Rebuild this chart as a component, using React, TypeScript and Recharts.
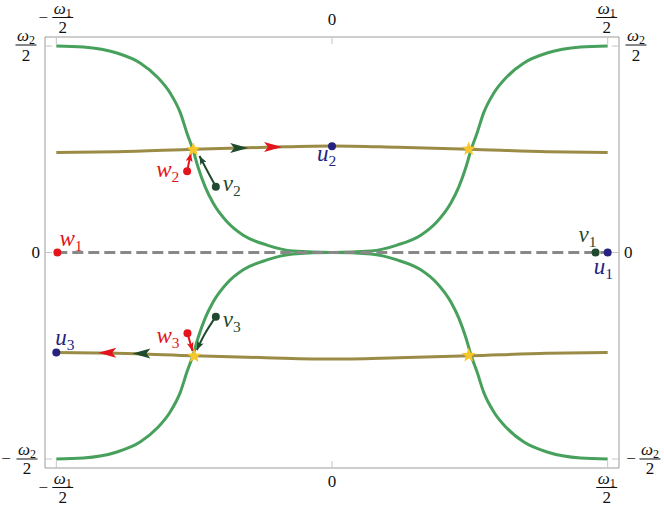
import React from 'react';
import { ComposedChart, Line, Scatter, XAxis, YAxis } from 'recharts';

const xTicks = [-0.5, 0, 0.5];
const yTicks = [-0.5, 0, 0.5];

const greenUpper = [
  { x: -0.5, y: 0.5 }, { x: -0.451, y: 0.4976 }, { x: -0.39, y: 0.483 }, { x: -0.348, y: 0.459 },
  { x: -0.317, y: 0.425 }, { x: -0.2935, y: 0.386 }, { x: -0.275, y: 0.338 }, { x: -0.263, y: 0.289 },
  { x: -0.252, y: 0.248 }, { x: -0.243, y: 0.207 }, { x: -0.23, y: 0.159 }, { x: -0.2156, y: 0.12 },
  { x: -0.19, y: 0.074 }, { x: -0.161, y: 0.042 }, { x: -0.118, y: 0.018 }, { x: -0.0707, y: 0.0036 },
  { x: 0, y: 0 },
  { x: 0.0707, y: 0.0036 }, { x: 0.118, y: 0.018 }, { x: 0.161, y: 0.042 }, { x: 0.19, y: 0.074 },
  { x: 0.2156, y: 0.12 }, { x: 0.23, y: 0.159 }, { x: 0.243, y: 0.207 }, { x: 0.252, y: 0.248 },
  { x: 0.263, y: 0.289 }, { x: 0.275, y: 0.338 }, { x: 0.2935, y: 0.386 }, { x: 0.317, y: 0.425 },
  { x: 0.348, y: 0.459 }, { x: 0.39, y: 0.483 }, { x: 0.451, y: 0.4976 }, { x: 0.5, y: 0.5 },
];
const greenLower = [
  { x: -0.5, y: -0.5 }, { x: -0.451, y: -0.4976 }, { x: -0.39, y: -0.483 }, { x: -0.348, y: -0.459 },
  { x: -0.317, y: -0.425 }, { x: -0.2935, y: -0.386 }, { x: -0.275, y: -0.338 }, { x: -0.263, y: -0.289 },
  { x: -0.252, y: -0.248 }, { x: -0.243, y: -0.207 }, { x: -0.23, y: -0.159 }, { x: -0.2156, y: -0.12 },
  { x: -0.19, y: -0.074 }, { x: -0.161, y: -0.042 }, { x: -0.118, y: -0.018 }, { x: -0.0707, y: -0.0036 },
  { x: 0, y: 0 },
  { x: 0.0707, y: -0.0036 }, { x: 0.118, y: -0.018 }, { x: 0.161, y: -0.042 }, { x: 0.19, y: -0.074 },
  { x: 0.2156, y: -0.12 }, { x: 0.23, y: -0.159 }, { x: 0.243, y: -0.207 }, { x: 0.252, y: -0.248 },
  { x: 0.263, y: -0.289 }, { x: 0.275, y: -0.338 }, { x: 0.2935, y: -0.386 }, { x: 0.317, y: -0.425 },
  { x: 0.348, y: -0.459 }, { x: 0.39, y: -0.483 }, { x: 0.451, y: -0.4976 }, { x: 0.5, y: -0.5 },
];
const oliveUpper = [
  { x: -0.5, y: 0.242 }, { x: -0.39, y: 0.244 }, { x: -0.25, y: 0.25 }, { x: -0.12, y: 0.2547 },
  { x: 0, y: 0.258 }, { x: 0.12, y: 0.2547 }, { x: 0.25, y: 0.25 }, { x: 0.39, y: 0.244 }, { x: 0.5, y: 0.242 },
];
const oliveLower = [
  { x: -0.5, y: -0.242 }, { x: -0.39, y: -0.244 }, { x: -0.25, y: -0.25 }, { x: -0.12, y: -0.2547 },
  { x: 0, y: -0.258 }, { x: 0.12, y: -0.2547 }, { x: 0.25, y: -0.25 }, { x: 0.39, y: -0.244 }, { x: 0.5, y: -0.242 },
];
const dashedZero = [{ x: -0.5, y: 0 }, { x: 0.5, y: 0 }];

const arrowW2 = [{ x: -0.2627, y: 0.197 }, { x: -0.256, y: 0.241 }];
const arrowV2 = [{ x: -0.2107, y: 0.159 }, { x: -0.227, y: 0.1998 }, { x: -0.2404, y: 0.2337 }];
const arrowW3 = [{ x: -0.2621, y: -0.1957 }, { x: -0.253, y: -0.2385 }];
const arrowV3 = [{ x: -0.2107, y: -0.1554 }, { x: -0.23, y: -0.1957 }, { x: -0.2451, y: -0.236 }];

const headsRight = [{ x: -0.152, y: 0.2528, kind: 'v' }, { x: -0.0906, y: 0.2555, kind: 'w' }];
const headsLeft = [{ x: -0.424, y: -0.2425, kind: 'w' }, { x: -0.362, y: -0.2445, kind: 'v' }];

const stars = [
  { x: -0.2515, y: 0.2494 }, { x: 0.248, y: 0.2506 },
  { x: -0.25, y: -0.2506 }, { x: 0.248, y: -0.249 },
];

const points = [
  { name: 'w1', x: -0.498, y: 0 },
  { name: 'v1', x: 0.478, y: 0 },
  { name: 'u1', x: 0.5, y: 0 },
  { name: 'u2', x: 0, y: 0.257 },
  { name: 'u3', x: -0.5, y: -0.242 },
  { name: 'w2', x: -0.2627, y: 0.197 },
  { name: 'v2', x: -0.2107, y: 0.159 },
  { name: 'w3', x: -0.2621, y: -0.1957 },
  { name: 'v3', x: -0.2107, y: -0.1554 },
];

const C = {
  green: '#47a15c',
  olive: '#9a8c46',
  gray: '#888888',
  red: '#e3141b',
  dark: '#1f4a2e',
  navy: '#25237f',
  star: '#f7c62a',
  frame: '#9c9c9c',
  tick: '#c4c4c4',
  text: '#111111',
};

const LABEL_POS: Record<string, [number, number]> = {
  w1: [2, -7], v1: [-17, -11], u1: [-14, 21], u2: [-15, 15], u3: [-1, -7],
  w2: [-31, 6], v2: [7, 4], w3: [-31, 10], v3: [7, 10],
};

const SERIF: React.CSSProperties = { fontFamily: "'Liberation Serif', 'Times New Roman', serif" };

const colorOf = (k: string) => (k[0] === 'w' ? C.red : k[0] === 'v' ? C.dark : C.navy);

function Frac({ cx, by, sub }: { cx: number; by: number; sub: string }) {
  return (
    <g>
      <text x={cx} y={by - 4} textAnchor="middle" fontSize={17} fill={C.text} style={SERIF}>
        <tspan fontStyle="italic">ω</tspan>
        <tspan fontSize={12} dy={3}>{sub}</tspan>
      </text>
      <line x1={cx - 10.5} x2={cx + 10.5} y1={by} y2={by} stroke={C.text} strokeWidth={1} />
      <text x={cx} y={by + 15.5} textAnchor="middle" fontSize={17} fill={C.text} style={SERIF}>2</text>
    </g>
  );
}
function Minus({ cx, by }: { cx: number; by: number }) {
  return (
    <text x={cx} y={by + 5} textAnchor="middle" fontSize={17} fill={C.text} style={SERIF}>−</text>
  );
}
function Zero({ x, y, anchor }: { x: number; y: number; anchor: string }) {
  return (
    <text x={x} y={y} textAnchor={anchor as any} fontSize={17} fill={C.text} style={SERIF}>0</text>
  );
}

const BottomTick = (p: any) => {
  const { x, y, payload } = p;
  const v = payload.value;
  return (
    <g>
      <line x1={x} x2={x} y1={y} y2={y - 7} stroke={C.tick} />
      {v === 0 ? <Zero x={x} y={y + 19} anchor="middle" /> : v < 0 ? (
        <g><Minus cx={x - 13} by={y + 19.5} /><Frac cx={x + 6.5} by={y + 19.5} sub="1" /></g>
      ) : <Frac cx={x - 1} by={y + 19.5} sub="1" />}
    </g>
  );
};
const TopTick = (p: any) => {
  const { x, y, payload } = p;
  const v = payload.value;
  return (
    <g>
      <line x1={x} x2={x} y1={y} y2={y + 7} stroke={C.tick} />
      {v === 0 ? <Zero x={x} y={y - 12} anchor="middle" /> : v < 0 ? (
        <g><Minus cx={x - 13} by={y - 19.5} /><Frac cx={x + 6.5} by={y - 19.5} sub="1" /></g>
      ) : <Frac cx={x - 1} by={y - 19.5} sub="1" />}
    </g>
  );
};
const LeftTick = (p: any) => {
  const { x, y, payload } = p;
  const v = payload.value;
  return (
    <g>
      <line x1={x} x2={x + 7} y1={y} y2={y} stroke={C.tick} />
      {v === 0 ? <Zero x={x - 5} y={y + 5.5} anchor="end" /> : v < 0 ? (
        <g><Minus cx={x - 39} by={y} /><Frac cx={x - 18} by={y} sub="2" /></g>
      ) : <Frac cx={x - 19} by={y - 1} sub="2" />}
    </g>
  );
};
const RightTick = (p: any) => {
  const { x, y, payload } = p;
  const v = payload.value;
  return (
    <g>
      <line x1={x} x2={x - 7} y1={y} y2={y} stroke={C.tick} />
      {v === 0 ? <Zero x={x + 5} y={y + 5.5} anchor="start" /> : v < 0 ? (
        <g><Minus cx={x + 12} by={y} /><Frac cx={x + 31} by={y} sub="2" /></g>
      ) : <Frac cx={x + 17} by={y - 1} sub="2" />}
    </g>
  );
};

const PointShape = (p: any) => {
  const { cx, cy, payload } = p;
  const name: string = payload.name;
  const col = colorOf(name);
  const [dx, dy] = LABEL_POS[name];
  return (
    <g>
      <circle cx={cx} cy={cy} r={4} fill={col} />
      <text x={cx + dx} y={cy + dy} fill={col} fontSize={23} style={SERIF}>
        <tspan fontStyle="italic">{name[0]}</tspan>
        <tspan fontSize={15.5} dy={5}>{name.slice(1)}</tspan>
      </text>
    </g>
  );
};

const makeHead = (dir: number) => (p: any) => {
  const { cx, cy, payload } = p;
  const col = payload.kind === 'w' ? C.red : C.dark;
  const L = 18, hh = 5, n = 4;
  const pts = [
    [cx, cy],
    [cx - dir * L, cy - hh],
    [cx - dir * (L - n), cy],
    [cx - dir * L, cy + hh],
  ].map((q) => q.join(',')).join(' ');
  return <polygon points={pts} fill={col} />;
};
const HeadRight = makeHead(1);
const HeadLeft = makeHead(-1);

const StarShape = (p: any) => {
  const { cx, cy } = p;
  const R = 7.5, r = 3.2;
  const pts: string[] = [];
  for (let i = 0; i < 10; i++) {
    const a = -Math.PI / 2 + (i * Math.PI) / 5;
    const rr = i % 2 === 0 ? R : r;
    pts.push(`${cx + rr * Math.cos(a)},${cy + rr * Math.sin(a)}`);
  }
  return <polygon points={pts.join(' ')} fill={C.star} />;
};

const XD: [number, number] = [-0.5205, 0.5205];
const YD: [number, number] = [-0.5218, 0.5218];

export default function App() {
  return (
    <div style={{ position: 'absolute', left: 0, top: 0, width: 664, height: 506, background: '#fff' }}>
      <svg width={0} height={0} style={{ position: 'absolute' }}>
        <defs>
          <marker id="mRed" viewBox="0 0 10 8" refX="10" refY="4" markerWidth="9" markerHeight="7"
            orient="auto" markerUnits="userSpaceOnUse">
            <path d="M0,0 L10,4 L0,8 L2.5,4 z" fill={C.red} />
          </marker>
          <marker id="mDark" viewBox="0 0 10 8" refX="10" refY="4" markerWidth="9" markerHeight="7"
            orient="auto" markerUnits="userSpaceOnUse">
            <path d="M0,0 L10,4 L0,8 L2.5,4 z" fill={C.dark} />
          </marker>
        </defs>
      </svg>
      <ComposedChart width={664} height={506} margin={{ top: 0, right: 0, bottom: 0, left: 0 }}>
        <XAxis dataKey="x" type="number" domain={XD} ticks={xTicks} orientation="bottom" height={38}
          axisLine={{ stroke: C.frame }} tickLine={false} tickSize={0} tickMargin={0} tick={<BottomTick />}
          allowDataOverflow interval={0} />
        <XAxis xAxisId="t" dataKey="x" type="number" domain={XD} ticks={xTicks} orientation="top" height={37}
          axisLine={{ stroke: C.frame }} tickLine={false} tickSize={0} tickMargin={0} tick={<TopTick />}
          allowDataOverflow interval={0} />
        <YAxis dataKey="y" type="number" domain={YD} ticks={yTicks} orientation="left" width={45}
          axisLine={{ stroke: C.frame }} tickLine={false} tickSize={0} tickMargin={0} tick={<LeftTick />}
          allowDataOverflow interval={0} />
        <YAxis yAxisId="r" dataKey="y" type="number" domain={YD} ticks={yTicks} orientation="right" width={45}
          axisLine={{ stroke: C.frame }} tickLine={false} tickSize={0} tickMargin={0} tick={<RightTick />}
          allowDataOverflow interval={0} />

        <Line data={greenUpper} dataKey="y" type="monotone" stroke={C.green} strokeWidth={3} dot={false} isAnimationActive={false} />
        <Line data={greenLower} dataKey="y" type="monotone" stroke={C.green} strokeWidth={3} dot={false} isAnimationActive={false} />
        <Line data={oliveUpper} dataKey="y" type="monotone" stroke={C.olive} strokeWidth={3} dot={false} isAnimationActive={false} />
        <Line data={oliveLower} dataKey="y" type="monotone" stroke={C.olive} strokeWidth={3} dot={false} isAnimationActive={false} />
        <Line data={dashedZero} dataKey="y" type="linear" stroke={C.gray} strokeWidth={3} strokeDasharray="11 5"
          dot={false} isAnimationActive={false} />

        <Line data={arrowW2} dataKey="y" type="linear" stroke={C.red} strokeWidth={2} dot={false}
          isAnimationActive={false} markerEnd="url(#mRed)" />
        <Line data={arrowV2} dataKey="y" type="natural" stroke={C.dark} strokeWidth={2} dot={false}
          isAnimationActive={false} markerEnd="url(#mDark)" />
        <Line data={arrowW3} dataKey="y" type="linear" stroke={C.red} strokeWidth={2} dot={false}
          isAnimationActive={false} markerEnd="url(#mRed)" />
        <Line data={arrowV3} dataKey="y" type="natural" stroke={C.dark} strokeWidth={2} dot={false}
          isAnimationActive={false} markerEnd="url(#mDark)" />

        <Scatter data={headsRight} dataKey="y" shape={HeadRight} isAnimationActive={false} />
        <Scatter data={headsLeft} dataKey="y" shape={HeadLeft} isAnimationActive={false} />
        <Scatter data={stars} dataKey="y" shape={StarShape} isAnimationActive={false} />
        <Scatter data={points} dataKey="y" shape={PointShape} isAnimationActive={false} />
      </ComposedChart>
    </div>
  );
}
